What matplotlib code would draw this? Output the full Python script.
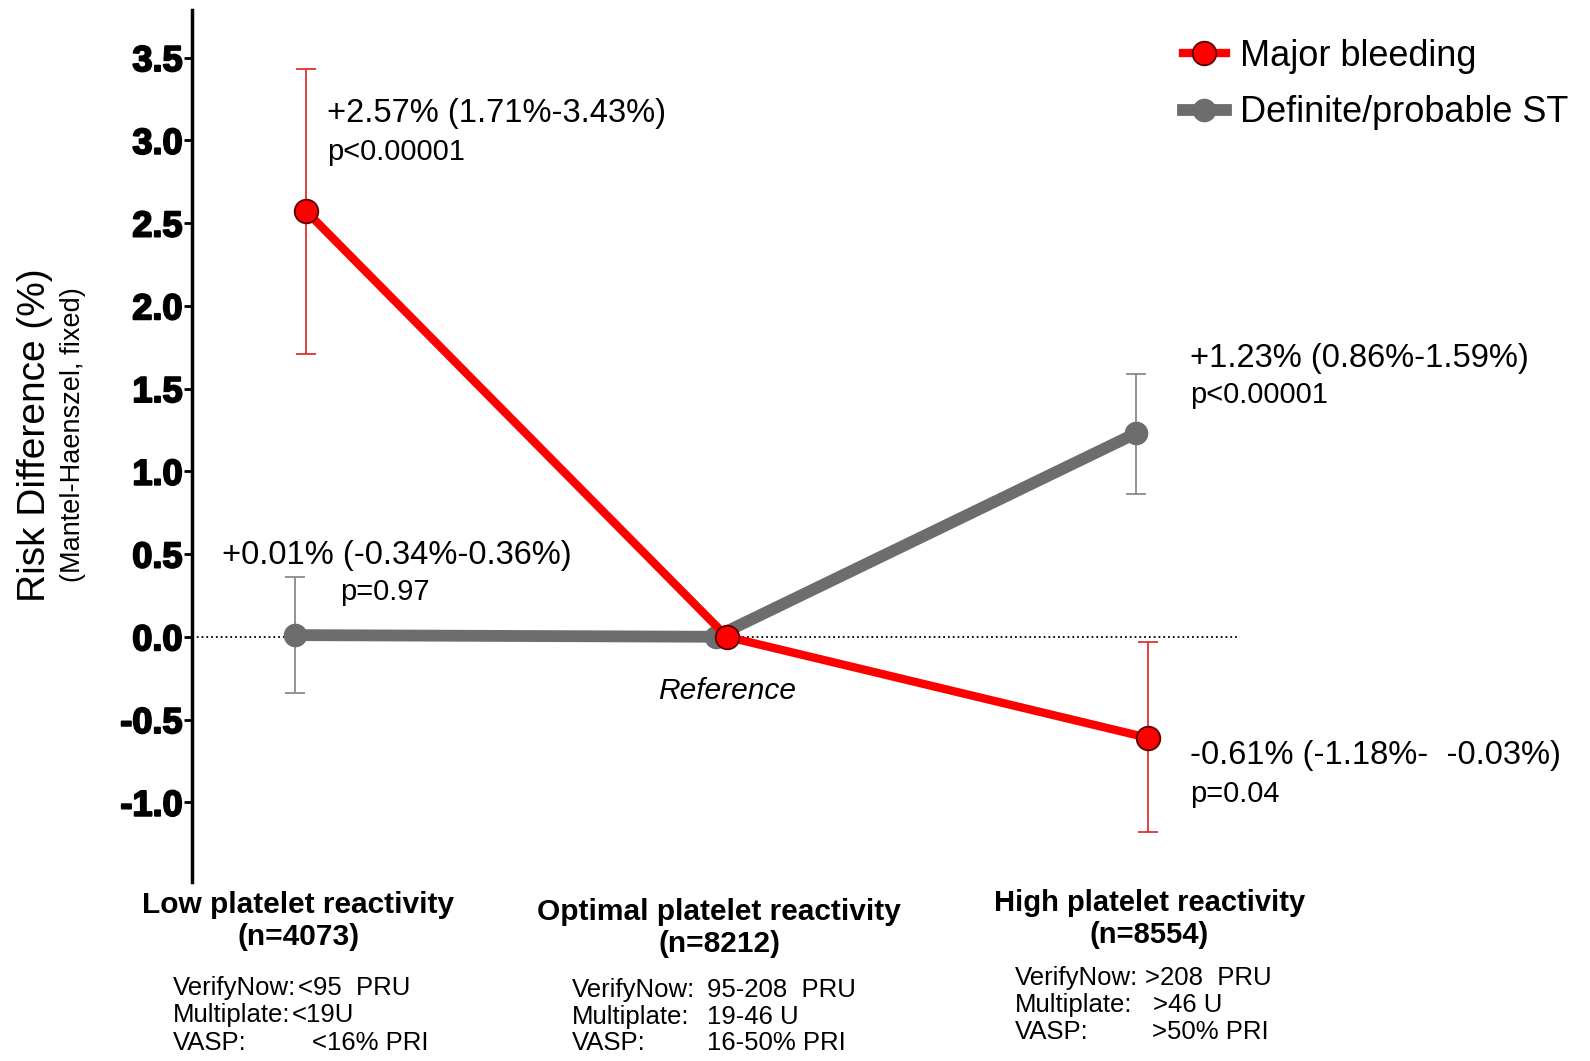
import numpy as np
import matplotlib.pyplot as plt
import matplotlib.patheffects as pe

plt.rcParams['font.family'] = ['Liberation Sans', 'DejaVu Sans']

# groups and effect estimates (risk difference, %)
groups = ['Low platelet reactivity\n(n=4073)',
          'Optimal platelet reactivity\n(n=8212)',
          'High platelet reactivity\n(n=8554)']
bleed = [2.57, 0.0, -0.61]
bleed_lo = [1.71, 0.0, -1.18]
bleed_hi = [3.43, 0.0, -0.03]
st = [0.01, 0.0, 1.23]
st_lo = [-0.34, 0.0, 0.86]
st_hi = [0.36, 0.0, 1.59]

assays = ['VerifyNow:', 'Multiplate:', 'VASP:']
assay_vals = [['<95  PRU', '<19U', '<16% PRI'],
              ['95-208  PRU', '19-46 U', '16-50% PRI'],
              ['>208  PRU', '>46 U', '>50% PRI']]

red = '#ff0000'
grey = '#6d6d6d'

x = np.arange(3)
xs = x - 0.027
side = [0, 2]

fig = plt.figure(figsize=(15.9, 10.61), dpi=100)
ax = fig.add_axes([0.121, 0.169, 0.879, 0.822])

ax.axhline(0, xmin=0, xmax=(2.22 + 0.271) / 3.323, color='k', ls=':', lw=1.3, zorder=1)

st_a, bl_a = np.array(st), np.array(bleed)
ax.errorbar(xs[side], st_a[side],
            yerr=[st_a[side] - np.array(st_lo)[side], np.array(st_hi)[side] - st_a[side]],
            fmt='none', ecolor='#8a8a8a', elinewidth=1.3, capsize=7, capthick=1.3, zorder=2)
ax.errorbar(x[side], bl_a[side],
            yerr=[bl_a[side] - np.array(bleed_lo)[side], np.array(bleed_hi)[side] - bl_a[side]],
            fmt='none', ecolor='#e03030', elinewidth=1.3, capsize=7, capthick=1.3, zorder=2)

ax.plot(xs, st, color=grey, lw=8.5, marker='o', ms=16, mfc=grey, mec=grey,
        zorder=3, label='Definite/probable ST')
ax.plot(x, bleed, color=red, lw=6, marker='o', ms=17, mfc=red, mec='#5a0000', mew=1.3,
        zorder=4, label='Major bleeding')

# estimate labels
big, small = 23.5, 21
ax.text(0.05, 3.16, '+2.57% (1.71%-3.43%)', fontsize=big, va='center')
ax.text(0.05, 2.93, 'p<0.00001', fontsize=small, va='center')
ax.text(-0.2, 0.49, '+0.01% (-0.34%-0.36%)', fontsize=big, va='center')
ax.text(0.08, 0.27, 'p=0.97', fontsize=small, va='center')
ax.text(2.1, 1.68, '+1.23% (0.86%-1.59%)', fontsize=big, va='center')
ax.text(2.1, 1.46, 'p<0.00001', fontsize=small, va='center')
ax.text(2.1, -0.72, '-0.61% (-1.18%-  -0.03%)', fontsize=big, va='center')
ax.text(2.1, -0.95, 'p=0.04', fontsize=small, va='center')
ax.text(1.0, -0.33, 'Reference', fontsize=21.5, style='italic', ha='center', va='center')

ax.set_xlim(-0.271, 3.052)
ax.set_ylim(-1.48, 3.79)
yt = np.arange(-1.0, 3.51, 0.5)
ax.set_yticks(yt)
ax.set_yticklabels(['%.1f' % v for v in yt], fontsize=26, fontweight='bold')
for t in ax.get_yticklabels():
    t.set_path_effects([pe.withStroke(linewidth=1.4, foreground='k')])
ax.set_xticks([])
for s in ['top', 'right', 'bottom']:
    ax.spines[s].set_visible(False)
ax.spines['left'].set_linewidth(2.5)
ax.tick_params(axis='y', length=6, width=2, pad=1)

fig.text(0.022, 0.59, 'Risk Difference (%)', rotation=90, fontsize=28,
         ha='center', va='center')
fig.text(0.046, 0.59, '(Mantel-Haenszel, fixed)', rotation=90, fontsize=19.5,
         ha='center', va='center')

# group captions below the axis
cap_y = [0.132, 0.1255, 0.134]
cap_dx = [-0.005, -0.005, 0.001]
cap_size = [21.5, 21.5, 21]
for i, g in enumerate(groups):
    xf = 0.121 + 0.879 * (x[i] + 0.271) / 3.323
    fig.text(xf + cap_dx[i], cap_y[i], g, ha='center', va='center', fontsize=cap_size[i],
             fontweight='bold', linespacing=1.2)

# assay cut-offs under each caption
lab_x = [0.109, 0.3597, 0.638]
val_x = [[0.1874, 0.1836, 0.196], [0.4447, 0.4447, 0.4447], [0.720, 0.725, 0.7245]]
row_y = [[0.0688, 0.0434, 0.017], [0.067, 0.0415, 0.017], [0.0782, 0.0528, 0.0273]]
for i in range(3):
    for j in range(3):
        fig.text(lab_x[i], row_y[i][j], assays[j], fontsize=18.5, va='center')
        fig.text(val_x[i][j], row_y[i][j], assay_vals[i][j], fontsize=18.5, va='center')

h, l = ax.get_legend_handles_labels()
ax.legend(h[::-1], l[::-1], loc='upper right', bbox_to_anchor=(1.008, 1.004), frameon=False,
          fontsize=26, handlelength=1.2, handletextpad=0.4, labelspacing=0.6)

fig.savefig('out.png', dpi=100)
